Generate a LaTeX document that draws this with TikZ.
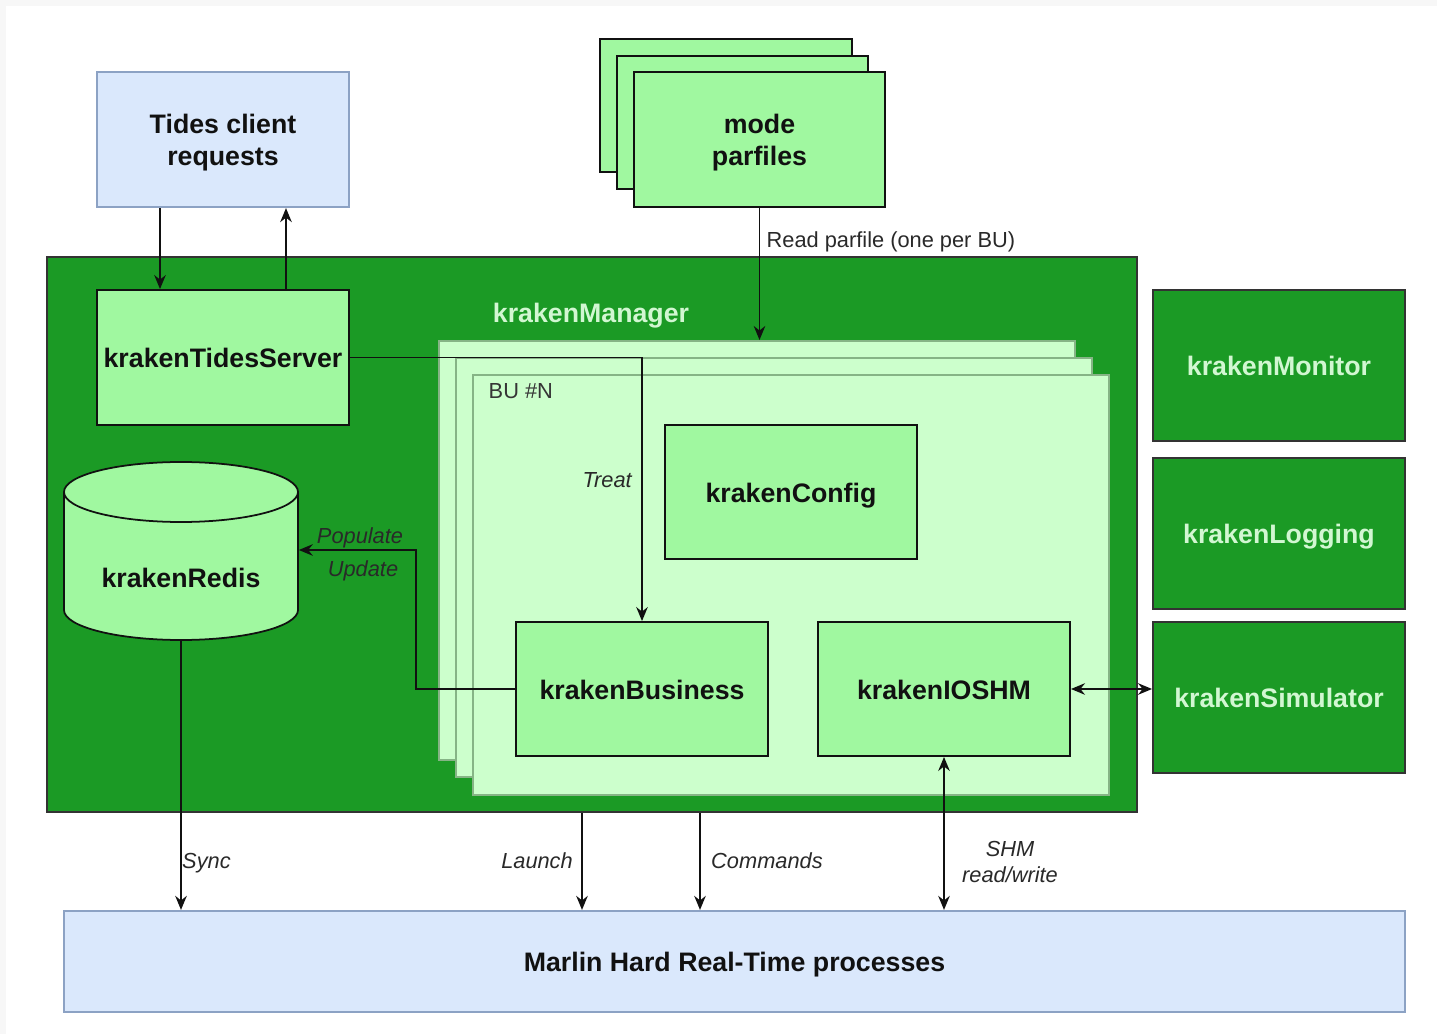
\documentclass[tikz,border=0pt]{standalone}
\usepackage{fontspec}
\setmainfont{Liberation Sans}
\usetikzlibrary{arrows.meta,calc}

\definecolor{frame}{HTML}{F7F7F7}
\definecolor{darkgreen}{HTML}{1B9A25}
\definecolor{lightgreen}{HTML}{A0F8A0}
\definecolor{palegreen}{HTML}{CCFFCC}
\definecolor{bugrid}{HTML}{86B486}
\definecolor{paleblue}{HTML}{DAE8FC}
\definecolor{blueline}{HTML}{8CA2C4}
\definecolor{ink}{HTML}{111111}
\definecolor{onDark}{HTML}{D2F7D2}

\newcommand\boldtxt{\fontsize{7.6}{9.1}\selectfont\bfseries}
\newcommand\labtxt{\fontsize{6.2}{7.4}\selectfont}

\tikzset{
  boldbase/.style={font=\boldtxt, text height=6pt, text depth=0.3pt},
  twoline/.style={font=\boldtxt, text=ink, align=center, inner sep=0pt},
  box/.style={boldbase, draw=ink, line width=0.5pt, fill=lightgreen, text=ink,
    align=center, inner sep=1pt},
  darkbox/.style={boldbase, draw=black!80, line width=0.5pt, fill=darkgreen, text=onDark,
    align=center, inner sep=1pt},
  bluebox/.style={boldbase, draw=blueline, line width=0.6pt, fill=paleblue, text=ink,
    align=center, inner sep=1pt},
  bulayer/.style={draw=bugrid, line width=0.5pt, fill=palegreen, inner sep=0pt},
  arr/.style={draw=ink, line width=0.55pt, -{Stealth[length=1.4mm,width=1.15mm]}},
  biarr/.style={draw=ink, line width=0.55pt, {Stealth[length=1.4mm,width=1.15mm]}-{Stealth[length=1.4mm,width=1.15mm]}},
  labbase/.style={font=\labtxt, text=ink!90, inner sep=1pt, align=center,
    text height=4.6pt, text depth=0.2pt},
  lab/.style={labbase, font=\labtxt\itshape},
  labml/.style={font=\labtxt\itshape, text=ink!90, inner sep=1pt, align=center},
}

\begin{document}
\begin{tikzpicture}[x=0.01cm, y=-0.01cm]
  % page with a thin grey frame on the top and left edges
  \useasboundingbox (0,0) rectangle (1437,1034);
  \fill[frame] (0,0) rectangle (1437,1034);
  \fill[white] (6,6) rectangle (1437,1034);

  % krakenManager container
  \node[draw=black!80, line width=0.5pt, fill=darkgreen, minimum width=10.9cm,
        minimum height=5.55cm, inner sep=0pt] (manager) at (592,534.5) {};
  \node[boldbase, text=onDark] (mgrlabel) at (591,312) {krakenManager};

  % side services
  \node[darkbox, minimum width=2.52cm, minimum height=1.51cm] (monitor) at (1279,365.5) {krakenMonitor};
  \node[darkbox, minimum width=2.52cm, minimum height=1.51cm] (logging) at (1279,533.5) {krakenLogging};
  \node[darkbox, minimum width=2.52cm, minimum height=1.51cm] (sim) at (1279,697.5) {krakenSimulator};

  % stacked business units
  \node[bulayer, minimum width=6.36cm, minimum height=4.19cm] (bu3) at (757,550.5) {};
  \node[bulayer, minimum width=6.36cm, minimum height=4.19cm] (bu2) at (774,567.5) {};
  \node[bulayer, minimum width=6.36cm, minimum height=4.20cm] (bu) at (791,585) {};
  \node[labbase, text=ink!85, anchor=west, inner sep=0pt] (bulabel) at (488,391) {BU \#N};

  % components of one business unit
  \node[box, minimum width=2.52cm, minimum height=1.34cm] (config) at (791,492) {krakenConfig};
  \node[box, minimum width=2.52cm, minimum height=1.34cm] (business) at (642,689) {krakenBusiness};
  \node[box, minimum width=2.52cm, minimum height=1.34cm] (ioshm) at (944,689) {krakenIOSHM};

  % Tides server inside the manager
  \node[box, minimum width=2.52cm, minimum height=1.35cm] (tserver) at (223,357.5) {krakenTidesServer};

  % Redis database (cylinder)
  \node[minimum width=2.34cm, minimum height=1.78cm, inner sep=0pt] (redis) at (181,551) {};
  \filldraw[fill=lightgreen, draw=ink, line width=0.5pt]
    (64,492) -- (64,610) arc[start angle=180, end angle=0, x radius=117, y radius=30]
    -- (298,492) arc[start angle=0, end angle=-180, x radius=117, y radius=30] -- cycle;
  \draw[ink, line width=0.5pt] (64,492) arc[start angle=180, end angle=0, x radius=117, y radius=30];
  \node[boldbase, text=ink] (redislabel) at (181,577) {krakenRedis};

  % external inputs
  \node[bluebox, minimum width=2.52cm, minimum height=1.35cm] (tides) at (223,139.5) {};
  \node[twoline] (tidestext) at ($(tides.center)+(0,3)$) {Tides client\\requests};
  \node[box, minimum width=2.52cm, minimum height=1.33cm] (par3) at (726,105.5) {};
  \node[box, minimum width=2.51cm, minimum height=1.33cm] (par2) at (742.5,122.5) {};
  \node[box, minimum width=2.51cm, minimum height=1.35cm] (parfront) at (759.5,139.5) {};
  \node[twoline] (partext) at ($(parfront.center)+(0,3)$) {mode\\parfiles};

  % real-time processes
  \node[bluebox, minimum width=13.41cm, minimum height=1.01cm] (marlin) at (734.5,961.5) {Marlin Hard Real-Time processes};

  % helper columns for vertical connectors
  \coordinate (cIn) at (160,0);
  \coordinate (cOut) at (286,0);
  \coordinate (cLaunch) at (582,0);
  \coordinate (cCmd) at (700,0);
  \coordinate (bend) at (416,550);

  % connectors
  \draw[arr] (tides.south -| cIn) -- (tserver.north -| cIn);
  \draw[arr] (tserver.north -| cOut) -- (tides.south -| cOut);
  \draw[arr] (parfront.south) -- (parfront.south |- bu3.north);
  \draw[arr] (tserver.east) -| (business.north);
  \draw[arr] (business.west) -| (bend) -- (redis.east |- bend);
  \draw[biarr] (ioshm.east) -- (sim.west |- ioshm.east);
  \draw[arr] (redis.south) -- (redis.south |- marlin.north);
  \draw[arr] (manager.south -| cLaunch) -- (marlin.north -| cLaunch);
  \draw[arr] (manager.south -| cCmd) -- (marlin.north -| cCmd);
  \draw[biarr] (ioshm.south) -- (ioshm.south |- marlin.north);

  % connector labels
  \node[labbase, anchor=west, inner sep=0pt] (readlab) at (766,240) {Read parfile (one per BU)};
  \node[lab, anchor=east] (treatlab) at (636,480) {Treat};
  \node[lab] (poplab) at (360,536) {Populate};
  \node[lab] (updlab) at (363,569) {Update};
  \node[lab, anchor=west] (synclab) at (178,861) {Sync};
  \node[lab, anchor=east] (launchlab) at (577,861) {Launch};
  \node[lab, anchor=west] (cmdlab) at (707,861) {Commands};
  \node[labml] (shmlab) at (1010,862) {SHM\\read/write};
\end{tikzpicture}
\end{document}
